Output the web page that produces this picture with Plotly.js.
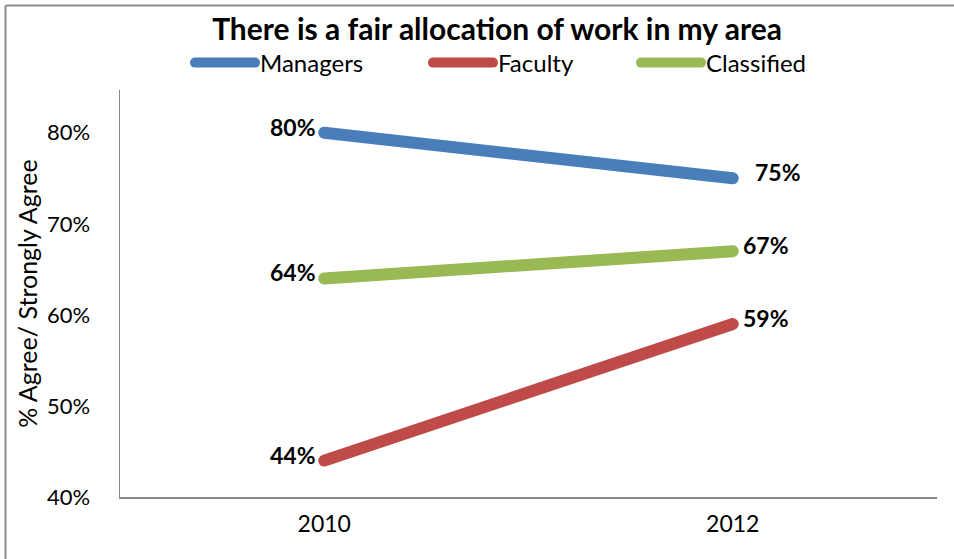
<!DOCTYPE html>
<html>
<head>
<meta charset="utf-8">
<script src="https://cdn.plot.ly/plotly-3.0.1.min.js"></script>
<style>
html,body{margin:0;padding:0;background:#fff;}
#chart{width:954px;height:559px;}
</style>
</head>
<body>
<div id="chart"></div>
<script>
const years = ['2010', '2012'];
const seriesNames = ['Managers', 'Faculty', 'Classified'];
const managers = [0.80, 0.75];
const faculty = [0.44, 0.59];
const classified = [0.64, 0.67];
const yTickVals = [0.4, 0.5, 0.6, 0.7, 0.8];
const yTickText = ['40%', '50%', '60%', '70%', '80%'];
const chartTitle = 'There is a fair allocation of work in my area';
const yTitle = '% Agree/ Strongly Agree';

const colors = ['#4A7EBB', '#BE4B48', '#98B954'];
const allValues = [managers, faculty, classified];
const FONT = 'Lato, "Open Sans", sans-serif';
const legendIds = ['legend', 'legend2', 'legend3'];

const traces = allValues.map((vals, k) => ({
  type: 'scatter',
  mode: 'lines',
  x: years,
  y: vals,
  name: seriesNames[k],
  legend: legendIds[k],
  line: {color: colors[k], width: 12},
  hoverinfo: 'skip'
}));

// data labels built from the data arrays (category axis: use category index)
const annotations = [];
allValues.forEach((vals, k) => {
  vals.forEach((v, i) => {
    let xs = i === 0 ? -6 : 8;
    if (k === 0 && i === 1) xs = 20;
    annotations.push({
      x: i, y: v, xref: 'x', yref: 'y',
      text: Math.round(v * 100) + '%',
      showarrow: false,
      xanchor: i === 0 ? 'right' : 'left',
      yanchor: 'middle',
      xshift: xs, yshift: 6,
      font: {family: FONT, size: 23, color: '#000', weight: 'bold'}
    });
  });
});

// frame: plot area x 120..937, y 90..497
const px = x => (x - 120) / 817;
const py = y => (497 - y) / 407;
const shapes = [
  {type: 'line', xref: 'paper', yref: 'paper', x0: px(5.5), x1: px(5.5), y0: py(600), y1: py(5.5),
   line: {color: '#8c8c8c', width: 2}},
  {type: 'line', xref: 'paper', yref: 'paper', x0: px(5.5), x1: px(960), y0: py(5.5), y1: py(5.5),
   line: {color: '#8c8c8c', width: 2}}
];

const legendBase = {
  orientation: 'h', xanchor: 'left', y: py(63), yanchor: 'middle',
  font: {family: FONT, size: 24, color: '#000'},
  itemwidth: 60,
  bgcolor: 'rgba(0,0,0,0)', itemclick: false, itemdoubleclick: false
};
const legendStarts = [190, 428, 636];

const layout = {
  width: 954, height: 559,
  margin: {l: 120, r: 17, t: 90, b: 62},
  paper_bgcolor: '#fff', plot_bgcolor: '#fff',
  font: {family: FONT, color: '#000'},
  title: {
    text: chartTitle,
    font: {family: FONT, size: 30, color: '#000', weight: 'bold'},
    x: 0.521, xanchor: 'center', y: 0.947, yanchor: 'middle'
  },
  showlegend: true,
  legend: Object.assign({}, legendBase, {x: px(legendStarts[0])}),
  legend2: Object.assign({}, legendBase, {x: px(legendStarts[1])}),
  legend3: Object.assign({}, legendBase, {x: px(legendStarts[2])}),
  xaxis: {
    type: 'category', range: [-0.5, 1.5],
    showline: true, linecolor: '#868686', linewidth: 1.5,
    showgrid: false, zeroline: false, ticks: '',
    tickfont: {family: FONT, size: 23, color: '#000'},
    ticklabelstandoff: 6, fixedrange: true
  },
  yaxis: {
    range: [0.4, 0.847],
    tickvals: yTickVals, ticktext: yTickText,
    showline: true, linecolor: '#868686', linewidth: 1.5,
    showgrid: false, zeroline: false, ticks: '',
    tickfont: {family: FONT, size: 22, color: '#000'},
    ticklabelstandoff: 24,
    title: {text: yTitle, font: {family: FONT, size: 25, color: '#000'}, standoff: 2},
    fixedrange: true
  },
  annotations: annotations,
  shapes: shapes
};

Plotly.newPlot('chart', traces, layout, {displayModeBar: false, staticPlot: true}).then(() => {
  document.querySelectorAll('.scatterlayer .js-line, .legendlines path').forEach(p => {
    p.style.strokeLinecap = 'round';
  });
});
</script>
</body>
</html>
